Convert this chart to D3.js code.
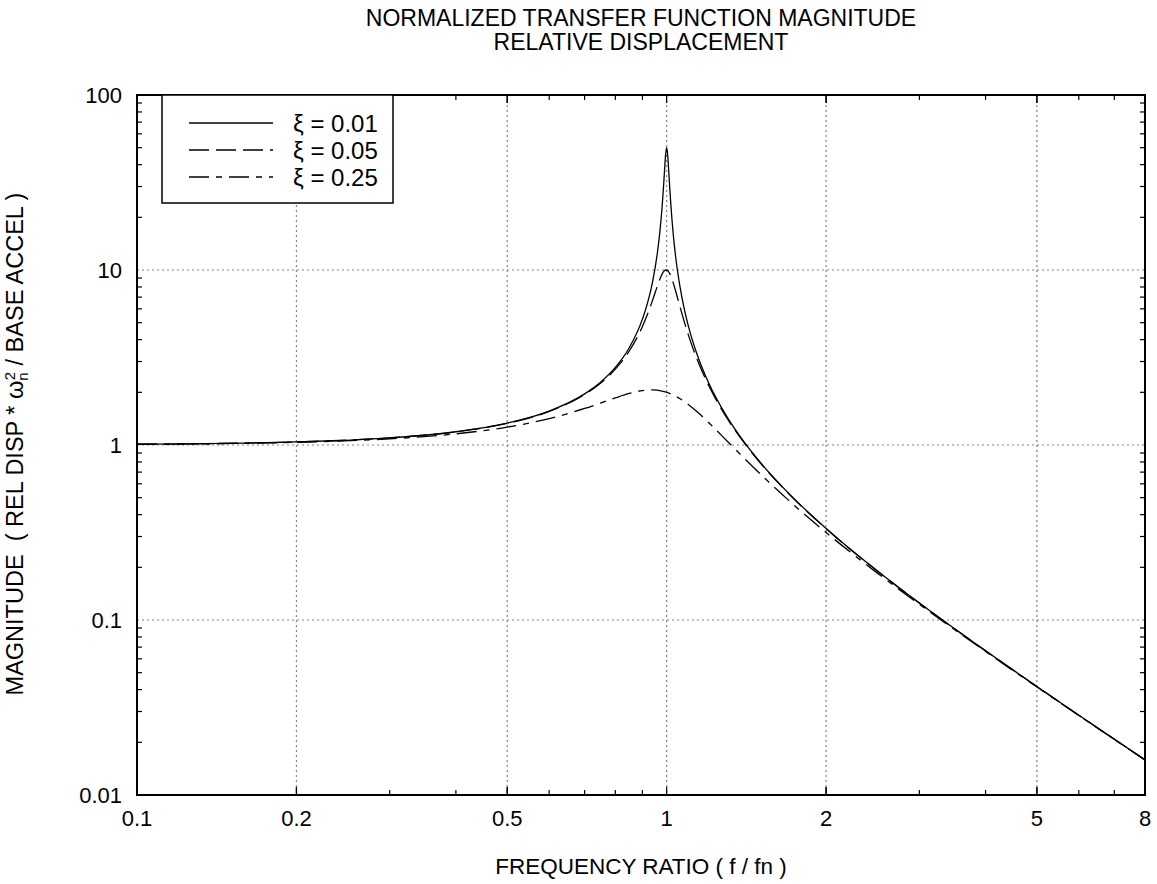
<!DOCTYPE html>
<html>
<head>
<meta charset="utf-8">
<script src="https://cdn.jsdelivr.net/npm/d3@7"></script>
<style>
  body { margin: 0; background: #fff; }
  text { font-family: "Liberation Sans", Arial, sans-serif; fill: #000; }
</style>
</head>
<body>
<div id="my_dataviz"></div>
<script>
// frequency ratio f/fn
var ratio = [0.1, 0.2, 0.3, 0.4, 0.5, 0.6, 0.7, 0.75, 0.8, 0.85, 0.9, 0.92, 0.94, 0.96, 0.97, 0.98, 0.985, 0.99, 0.995, 1.0,
  1.005, 1.01, 1.015, 1.02, 1.03, 1.04, 1.06, 1.08, 1.1, 1.15, 1.2, 1.3, 1.4, 1.5, 1.7, 2, 2.5, 3, 4, 5, 6, 8];

// magnitude for each damping value
var mag001 = [1.0101, 1.0417, 1.0989, 1.1905, 1.3333, 1.5624, 1.960, 2.2844, 2.775, 3.597, 5.240, 6.464, 8.481, 12.39, 16.08, 22.63, 28.01, 35.62, 44.92, 50.0,
  44.52, 35.09, 27.46, 22.10, 15.55, 11.87, 7.974, 5.960, 4.736, 3.093, 2.269, 1.448, 1.0412, 0.8000, 0.5291, 0.3333, 0.1905, 0.1250, 0.06667, 0.04167, 0.02857, 0.01587];
var mag005 = [1.0100, 1.0414, 1.0983, 1.1891, 1.3304, 1.5557, 1.9426, 2.2529, 2.7116, 3.4456, 4.7565, 5.585, 6.684, 8.068, 8.804, 9.461, 9.718, 9.903, 10.0, 10.0,
  9.901, 9.711, 9.443, 9.115, 8.357, 7.565, 6.141, 5.041, 4.218, 2.921, 2.193, 1.4242, 1.0308, 0.7943, 0.5270, 0.3326, 0.1903, 0.12491, 0.06664, 0.04166, 0.02857, 0.01587];
var mag025 = [1.0088, 1.0361, 1.0843, 1.1581, 1.2649, 1.4148, 1.6167, 1.7355, 1.8582, 1.9701, 2.0472, 2.0620, 2.0653, 2.0561, 2.0467, 2.0342, 2.0267, 2.0186, 2.0096, 2.0,
  1.9897, 1.9786, 1.9670, 1.9550, 1.9283, 1.8998, 1.8375, 1.7697, 1.6986, 1.5169, 1.3440, 1.0549, 0.8417, 0.6860, 0.4825, 0.3162, 0.1853, 0.12286, 0.06608, 0.04144, 0.02847, 0.01584];

var seriesNames = ["ξ = 0.01", "ξ = 0.05", "ξ = 0.25"];
var xTickLabels = [0.1, 0.2, 0.5, 1, 2, 5, 8];
var yTickLabels = [0.01, 0.1, 1, 10, 100];

var margin = {top: 95, right: 12, bottom: 89, left: 137},
  width = 1157 - margin.left - margin.right,
  height = 884 - margin.top - margin.bottom;

var root = d3.select("#my_dataviz")
  .append("svg")
    .attr("width", 1157)
    .attr("height", 884);

var svg = root.append("g")
  .attr("transform", "translate(" + margin.left + "," + margin.top + ")");

var x = d3.scaleLog().domain([0.1, 8]).range([0, width]);
var y = d3.scaleLog().domain([0.01, 100]).range([height, 0]);

// minor tick positions (2..9 in every decade)
var xMinor = [], yMinor = [];
[0.1, 1].forEach(function(d) {
  for (var k = 2; k <= 9; k++) { if (d * k < 8) xMinor.push(d * k); }
});
[0.01, 0.1, 1, 10].forEach(function(d) {
  for (var k = 2; k <= 9; k++) yMinor.push(d * k);
});

// grid
var xGrid = [0.2, 0.5, 1, 2, 5];
var yGrid = [0.1, 1, 10];
svg.selectAll(".xgrid").data(xGrid).enter().append("line")
  .attr("x1", function(d) { return x(d); })
  .attr("x2", function(d) { return x(d); })
  .attr("y1", 0).attr("y2", height)
  .attr("stroke", "#808080").attr("stroke-width", 1.2)
  .attr("stroke-dasharray", "2,3");
svg.selectAll(".ygrid").data(yGrid).enter().append("line")
  .attr("x1", 0).attr("x2", width)
  .attr("y1", function(d) { return y(d); })
  .attr("y2", function(d) { return y(d); })
  .attr("stroke", "#808080").attr("stroke-width", 1.2)
  .attr("stroke-dasharray", "2,3");

// ticks inside the frame, all four sides
var tickG = svg.append("g").attr("stroke", "#000").attr("stroke-width", 1.2);
xMinor.concat(xGrid).forEach(function(d) {
  var len = xGrid.indexOf(d) >= 0 ? 8 : 5;
  tickG.append("line").attr("x1", x(d)).attr("x2", x(d)).attr("y1", height).attr("y2", height - len);
  tickG.append("line").attr("x1", x(d)).attr("x2", x(d)).attr("y1", 0).attr("y2", len);
});
yMinor.forEach(function(d) {
  var len = yGrid.indexOf(d) >= 0 ? 8 : 5;
  tickG.append("line").attr("x1", 0).attr("x2", len).attr("y1", y(d)).attr("y2", y(d));
  tickG.append("line").attr("x1", width).attr("x2", width - len).attr("y1", y(d)).attr("y2", y(d));
});

// curves
var line = d3.line()
  .x(function(d) { return x(d[0]); })
  .y(function(d) { return y(d[1]); })
  .curve(d3.curveMonotoneX);

var series = [
  {values: mag001, dash: null},
  {values: mag005, dash: "20,7"},
  {values: mag025, dash: "20,7,6,7"}
];

svg.append("defs").append("clipPath").attr("id", "clip")
  .append("rect").attr("width", width).attr("height", height);

svg.selectAll(".curve").data(series).enter().append("path")
  .attr("clip-path", "url(#clip)")
  .attr("d", function(s) { return line(ratio.map(function(r, i) { return [r, s.values[i]]; })); })
  .attr("fill", "none")
  .attr("stroke", "#000")
  .attr("stroke-width", 1.3)
  .attr("stroke-dasharray", function(s) { return s.dash; });

// frame
svg.append("rect")
  .attr("width", width).attr("height", height)
  .attr("fill", "none").attr("stroke", "#000").attr("stroke-width", 2);

// tick labels
svg.selectAll(".xlab").data(xTickLabels).enter().append("text")
  .attr("x", function(d) { return x(d); })
  .attr("y", height + 31)
  .attr("text-anchor", "middle")
  .style("font-size", "22px")
  .text(function(d) { return d; });
svg.selectAll(".ylab").data(yTickLabels).enter().append("text")
  .attr("x", -15)
  .attr("y", function(d) { return y(d) + 8; })
  .attr("text-anchor", "end")
  .style("font-size", "22px")
  .text(function(d) { return d; });

// legend
var legend = svg.append("g").attr("transform", "translate(25,0)");
legend.append("rect")
  .attr("width", 231).attr("height", 108)
  .attr("fill", "#fff").attr("stroke", "#000").attr("stroke-width", 1.5);
series.forEach(function(s, i) {
  var ly = 28 + i * 27;
  legend.append("line")
    .attr("x1", 27).attr("x2", 111).attr("y1", ly).attr("y2", ly)
    .attr("stroke", "#000").attr("stroke-width", 1.3)
    .attr("stroke-dasharray", s.dash);
  legend.append("text")
    .attr("x", 131).attr("y", ly + 9)
    .style("font-size", "24px")
    .text(seriesNames[i]);
});

// titles
root.append("text")
  .attr("x", margin.left + width / 2).attr("y", 26)
  .attr("text-anchor", "middle").style("font-size", "23px")
  .text("NORMALIZED TRANSFER FUNCTION MAGNITUDE");
root.append("text")
  .attr("x", margin.left + width / 2).attr("y", 50)
  .attr("text-anchor", "middle").style("font-size", "23px")
  .text("RELATIVE DISPLACEMENT");
root.append("text")
  .attr("x", margin.left + width / 2).attr("y", 874)
  .attr("text-anchor", "middle").style("font-size", "22.5px")
  .text("FREQUENCY RATIO ( f / fn )");

var ylab = root.append("text")
  .attr("transform", "translate(23,444) rotate(-90)")
  .attr("text-anchor", "middle").style("font-size", "23.5px")
  .attr("xml:space", "preserve");
ylab.append("tspan").text("MAGNITUDE  ( REL DISP * ω");
ylab.append("tspan").attr("dy", 5).style("font-size", "15px").text("n");
ylab.append("tspan").attr("dy", -13).attr("dx", -8).style("font-size", "15px").text("2");
ylab.append("tspan").attr("dy", 8).text(" / BASE ACCEL )");
</script>
</body>
</html>
